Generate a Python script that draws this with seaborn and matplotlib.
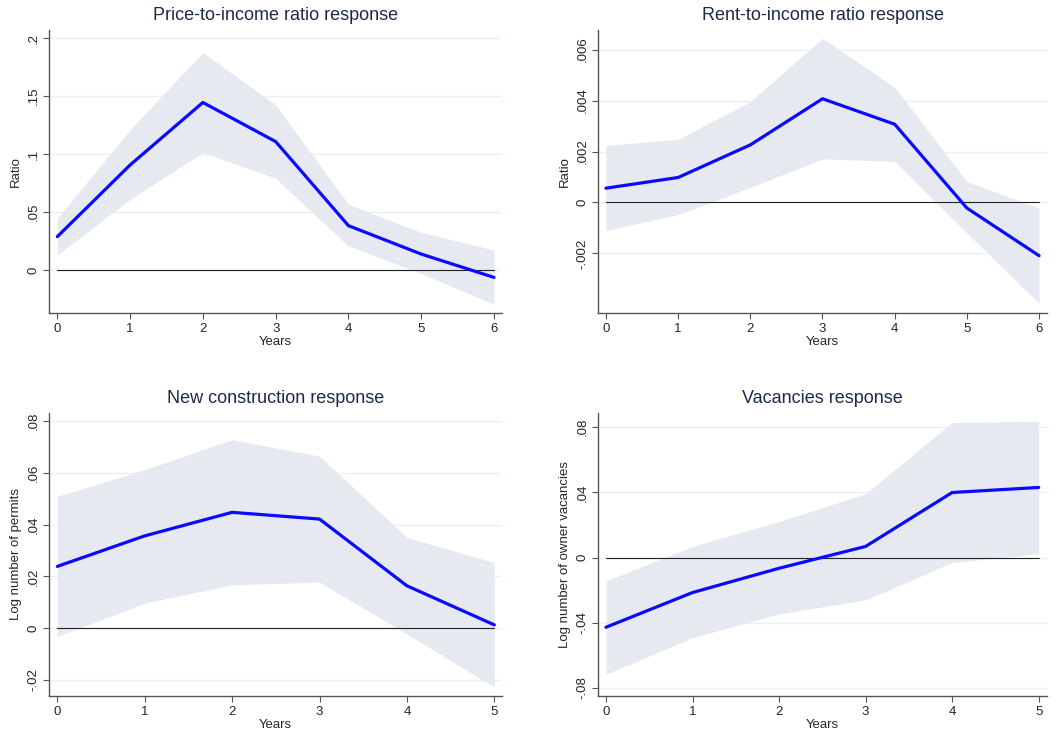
import matplotlib
matplotlib.use("Agg")
import matplotlib.pyplot as plt
import seaborn as sns
import pandas as pd

sns.set_theme(style="white")
plt.rcParams["font.family"] = ["Liberation Sans", "DejaVu Sans"]

# Impulse responses with confidence bands
years_a = [0, 1, 2, 3, 4, 5, 6]
price_resp = [0.0288, 0.0906, 0.1445, 0.1108, 0.0383, 0.0138, -0.0063]
price_hi = [0.0446, 0.121, 0.1876, 0.1424, 0.0567, 0.0325, 0.0173]
price_lo = [0.013, 0.061, 0.1013, 0.0791, 0.0207, -0.0029, -0.0294]

rent_resp = [0.00056, 0.00098, 0.00226, 0.00407, 0.00307, -0.00022, -0.00209]
rent_hi = [0.00224, 0.00248, 0.00396, 0.00644, 0.00452, 0.00082, -0.00022]
rent_lo = [-0.0011, -0.00048, 0.00059, 0.00171, 0.00161, -0.0012, -0.00395]

years_b = [0, 1, 2, 3, 4, 5]
constr_resp = [0.0239, 0.0357, 0.0448, 0.0422, 0.0164, 0.0013]
constr_hi = [0.051, 0.0613, 0.0729, 0.0665, 0.0351, 0.0254]
constr_lo = [-0.0032, 0.0097, 0.0168, 0.0178, -0.0022, -0.0228]

vac_resp = [-0.0428, -0.0215, -0.0066, 0.0068, 0.0399, 0.043]
vac_hi = [-0.0143, 0.0068, 0.0221, 0.0391, 0.0829, 0.0836]
vac_lo = [-0.0717, -0.0492, -0.0346, -0.026, -0.0031, 0.0023]

titles = ["Price-to-income ratio response", "Rent-to-income ratio response",
          "New construction response", "Vacancies response"]
ylabels = ["Ratio", "Ratio", "Log number of permits", "Log number of owner vacancies"]

price_ticks = [0, 0.05, 0.1, 0.15, 0.2]
price_ticklabels = ["0", ".05", ".1", ".15", ".2"]
rent_ticks = [-0.002, 0, 0.002, 0.004, 0.006]
rent_ticklabels = ["-.002", "0", ".002", ".004", ".006"]
constr_ticks = [-0.02, 0, 0.02, 0.04, 0.06, 0.08]
constr_ticklabels = ["-.02", "0", ".02", ".04", ".06", ".08"]
vac_ticks = [-0.08, -0.04, 0, 0.04, 0.08]
vac_ticklabels = ["-.08", "-.04", "0", ".04", ".08"]

LINE = "#0a0aff"
BAND = "#e6e9f0"
GRID = "#eaf1f4"
TITLE = "#1c2a4a"
SPINE = "#555555"

fig = plt.figure(figsize=(10.64, 7.34), dpi=100)
W, H = 1064, 734


def add_axes(l, r, t, b):
    return fig.add_axes([l / W, 1 - b / H, (r - l) / W, (b - t) / H])


panels = [
    dict(ax=add_axes(49, 502, 30, 313), x=years_a, y=price_resp, hi=price_hi, lo=price_lo,
         ticks=price_ticks, labels=price_ticklabels, ylim=(-0.037, 0.207), xlim=(-0.114, 6.11)),
    dict(ax=add_axes(598, 1047, 30, 313), x=years_a, y=rent_resp, hi=rent_hi, lo=rent_lo,
         ticks=rent_ticks, labels=rent_ticklabels, ylim=(-0.00434, 0.00677), xlim=(-0.11, 6.11)),
    dict(ax=add_axes(49, 502, 413, 696), x=years_b, y=constr_resp, hi=constr_hi, lo=constr_lo,
         ticks=constr_ticks, labels=constr_ticklabels, ylim=(-0.0262, 0.0832), xlim=(-0.095, 5.088)),
    dict(ax=add_axes(598, 1047, 413, 696), x=years_b, y=vac_resp, hi=vac_hi, lo=vac_lo,
         ticks=vac_ticks, labels=vac_ticklabels, ylim=(-0.085, 0.0887), xlim=(-0.092, 5.096)),
]

for p, title, ylab in zip(panels, titles, ylabels):
    ax = p["ax"]
    for yt in p["ticks"]:
        ax.axhline(yt, color=GRID, lw=1.0, zorder=0)
    ax.fill_between(p["x"], p["lo"], p["hi"], color=BAND, lw=0, zorder=1)
    ax.axhline(0, xmin=(p["x"][0] - p["xlim"][0]) / (p["xlim"][1] - p["xlim"][0]),
               xmax=(p["x"][-1] - p["xlim"][0]) / (p["xlim"][1] - p["xlim"][0]),
               color="#222222", lw=0.8, zorder=2)
    df = pd.DataFrame({"Years": p["x"], "resp": p["y"]})
    sns.lineplot(data=df, x="Years", y="resp", ax=ax, color=LINE, lw=2.3, zorder=3)
    ax.set_xlim(*p["xlim"])
    ax.set_ylim(*p["ylim"])
    ax.set_xticks(p["x"])
    ax.set_xticklabels([str(v) for v in p["x"]])
    ax.set_yticks(p["ticks"])
    ax.set_yticklabels(p["labels"], rotation=90, va="center")
    ax.set_xlabel("Years", fontsize=9.5, labelpad=1)
    ax.set_ylabel(ylab, fontsize=9.5, labelpad=4)
    ax.set_title(title, fontsize=13, color=TITLE, pad=7)
    for s in ["top", "right"]:
        ax.spines[s].set_visible(False)
    for s in ["left", "bottom"]:
        ax.spines[s].set_color(SPINE)
        ax.spines[s].set_linewidth(1.0)
    ax.tick_params(axis="both", which="major", direction="out", length=4, width=0.8,
                   color=SPINE, labelsize=9.5, pad=3, left=True, bottom=True)
    ax.set_facecolor("white")

fig.savefig("out.png", dpi=100, facecolor="white")
